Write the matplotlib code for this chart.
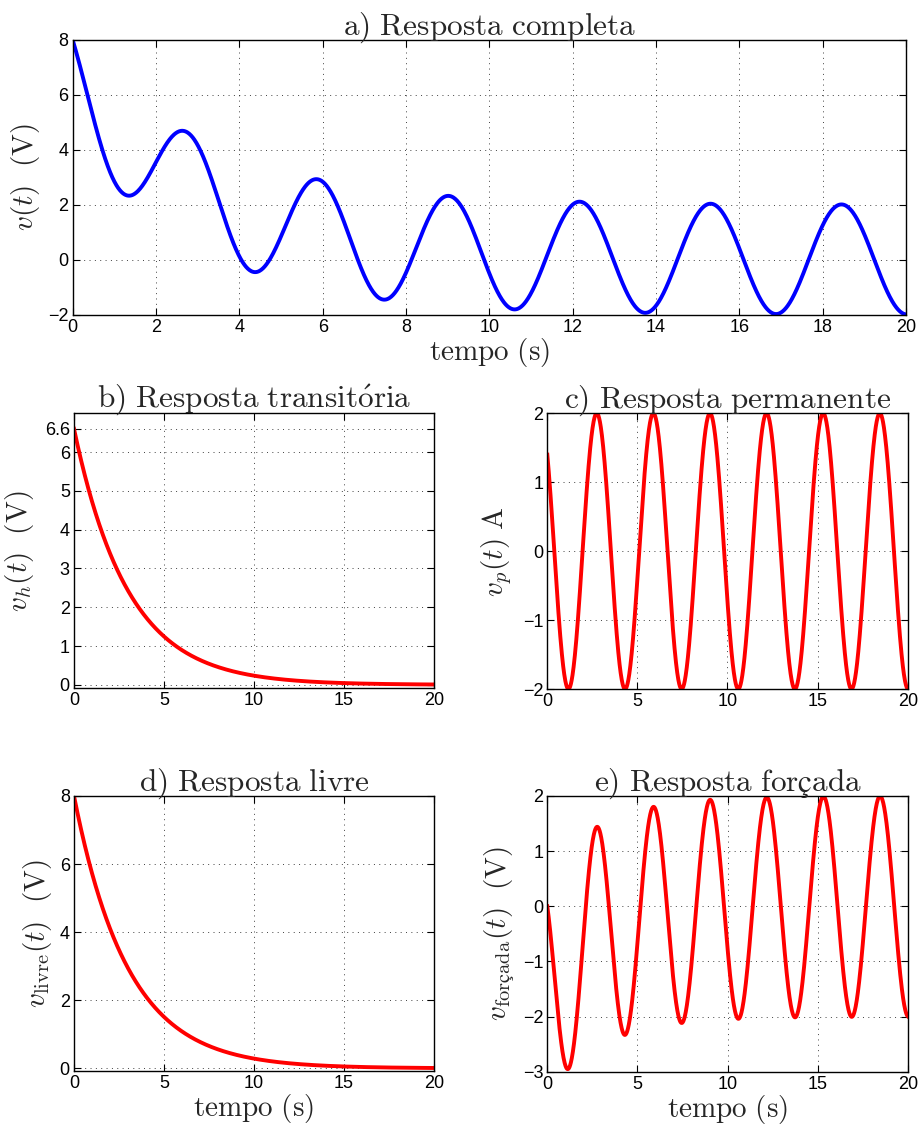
import numpy as np
import matplotlib
matplotlib.use('Agg')
import matplotlib.pyplot as plt

# values
t_range = [0.0, 20.0]
v_initial = 8.0          # v(0) in panels a) and d)
vh_initial = 6.6         # transient amplitude, panel b)
tau = 3.0                # time constant of the exponentials
vp_amp = 2.0             # steady-state amplitude, panel c)
omega = 2.0              # rad/s (period ~3.14 s)
vp_initial = 1.4         # vp(0), panel c)

t = np.linspace(t_range[0], t_range[1], 2001)
phase = np.arccos(vp_initial / vp_amp)
vh = vh_initial * np.exp(-t / tau)
vp = vp_amp * np.cos(omega * t + phase)
v = vh + vp
v_livre = v_initial * np.exp(-t / tau)
v_forcada = v - v_livre

plt.rcParams['font.family'] = ['Liberation Sans', 'DejaVu Sans']
plt.rcParams['mathtext.fontset'] = 'cm'
plt.rcParams['axes.unicode_minus'] = True

W, H = 920, 1128
fig = plt.figure(figsize=(W / 100, H / 100), dpi=100)

TXT = '#262626'


def rect(l, t_, r, b):
    return [l / W, 1 - b / H, (r - l) / W, (b - t_) / H]


def style(ax, xlim, ylim, xticks, yticks, yticklabels=None):
    ax.set_xlim(xlim)
    ax.set_ylim(ylim)
    ax.set_xticks(xticks)
    ax.set_yticks(yticks)
    if yticklabels is not None:
        ax.set_yticklabels(yticklabels)
    ax.grid(True, color='black', ls=(0, (1, 4.5)), lw=0.7, alpha=0.75)
    ax.tick_params(direction='in', top=True, right=True, length=5,
                   width=0.8, labelsize=13, pad=3)
    for s in ax.spines.values():
        s.set_linewidth(1.0)


TITLE = 22.5
LABEL = 21
LW = 2.8

# a) full response
ax = fig.add_axes(rect(72.7, 40, 906, 314.7))
ax.plot(t, v, color='blue', lw=LW)
style(ax, (0, 20), (-2, 8), np.arange(0, 21, 2), np.arange(-2, 9, 2))
ax.set_title(r'$\mathrm{a)\ Resposta\ completa}$', fontsize=TITLE, pad=4, color=TXT)
ax.set_ylabel(r'$v(t)\ \ \mathrm{(V)}$', fontsize=LABEL, labelpad=4, color=TXT)
ax.set_xlabel(r'$\mathrm{tempo\ (s)}$', fontsize=LABEL, labelpad=0, color=TXT)

# b) transient
ax = fig.add_axes(rect(74, 413.3, 434, 688.3))
ax.plot(t, vh, color='red', lw=LW)
style(ax, (0, 20), (-0.09, 7.0), [0, 5, 10, 15, 20],
      [0, 1, 2, 3, 4, 5, 6, 6.6], ['0', '1', '2', '3', '4', '5', '6', '6.6'])
ax.set_title(r'$\mathrm{b)\ Resposta\ transit\acute{o}ria}$', fontsize=TITLE, pad=4, color=TXT)
ax.set_ylabel(r'$v_h(t)\ \ \mathrm{(V)}$', fontsize=LABEL, labelpad=6, color=TXT)

# c) steady state
ax = fig.add_axes(rect(547.3, 413.3, 907.7, 689))
ax.plot(t, vp, color='red', lw=LW)
style(ax, (0, 20), (-2, 2), [0, 5, 10, 15, 20], [-2, -1, 0, 1, 2])
ax.set_title(r'$\mathrm{c)\ Resposta\ permanente}$', fontsize=TITLE, pad=4, color=TXT)
ax.set_ylabel(r'$v_p(t)\ \mathrm{A}$', fontsize=LABEL, labelpad=6, color=TXT)

# d) free response
ax = fig.add_axes(rect(74, 796, 434, 1070.7))
ax.plot(t, v_livre, color='red', lw=LW)
style(ax, (0, 20), (-0.07, 8), [0, 5, 10, 15, 20], [0, 2, 4, 6, 8])
ax.set_title(r'$\mathrm{d)\ Resposta\ livre}$', fontsize=TITLE, pad=4, color=TXT)
ax.set_ylabel(r'$v_{\mathrm{livre}}(t)\ \ \mathrm{(V)}$', fontsize=LABEL, labelpad=4, color=TXT)
ax.set_xlabel(r'$\mathrm{tempo\ (s)}$', fontsize=LABEL, labelpad=0, color=TXT)

# e) forced response
ax = fig.add_axes(rect(547.3, 796, 908, 1071.7))
ax.plot(t, v_forcada, color='red', lw=LW)
style(ax, (0, 20), (-3, 2), [0, 5, 10, 15, 20], [-3, -2, -1, 0, 1, 2])
ax.set_title(r'$\mathrm{e)\ Resposta\ forçada}$', fontsize=TITLE, pad=4, color=TXT)
ax.set_ylabel(r'$v_{\mathrm{forçada}}(t)\ \ \mathrm{(V)}$', fontsize=LABEL, labelpad=4, color=TXT)
ax.set_xlabel(r'$\mathrm{tempo\ (s)}$', fontsize=LABEL, labelpad=0, color=TXT)

fig.savefig('out.png', dpi=100)
